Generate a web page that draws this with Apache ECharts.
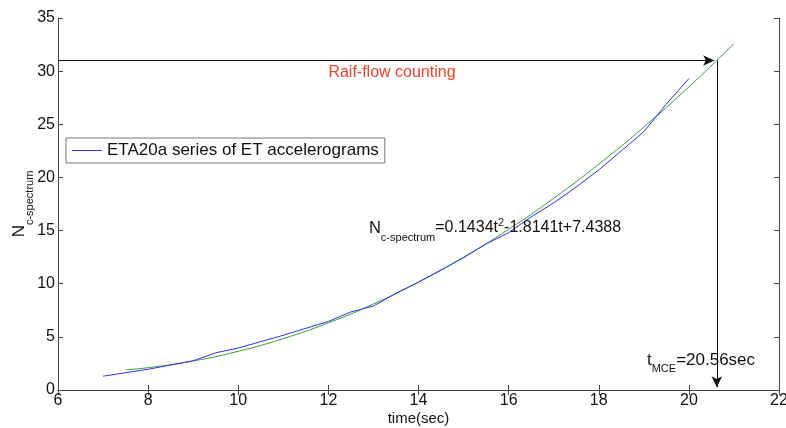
<!DOCTYPE html>
<html>
<head>
<meta charset="utf-8">
<script src="https://cdn.jsdelivr.net/npm/echarts@6/dist/echarts.min.js"></script>
<style>
  html, body { margin: 0; padding: 0; background: #fff; }
  #chart { width: 786px; height: 428px; }
</style>
</head>
<body>
<div id="chart"></div>
<script>
const blueTime = [7, 8, 9, 9.5, 10, 11, 12, 12.5, 13, 13.5, 14, 14.5, 15, 15.5, 16, 16.5, 17, 17.5, 18, 18.5, 19, 19.5, 20]
const blueN = [1.3, 1.95, 2.75, 3.5, 3.95, 5.15, 6.45, 7.35, 7.9, 9.1, 10.15, 11.3, 12.45, 13.75, 14.8, 16.3, 17.6, 19.1, 20.7, 22.5, 24.3, 26.9, 29.3]
const fitTime = [7.5, 8, 9, 10, 11, 12, 13, 14, 15, 16, 17, 18, 19, 20, 21]
const fitN = [1.9, 2.1, 2.73, 3.64, 4.84, 6.32, 8.09, 10.15, 12.49, 15.12, 18.04, 21.25, 24.74, 28.52, 32.58]

const xTicks = { min: 6, max: 22, interval: 2 }
const yTicks = { min: 0, max: 35, interval: 5 }

const legendName = 'ETA20a series of ET accelerograms'
const tMCE = 20.62
const nLevel = 31

const font = 'Liberation Sans, Arial, sans-serif'
const ink = '#111'

const chart = echarts.init(document.getElementById('chart'))

const axisCommon = {
  axisLine: { show: true, lineStyle: { color: '#444', width: 1 } },
  axisTick: { show: true, inside: true, length: 5, lineStyle: { color: '#444' } },
  splitLine: { show: false },
}

chart.setOption({
  backgroundColor: '#fff',
  animation: false,
  grid: { left: 58, right: 7, top: 18, bottom: 38, show: false, outerBoundsMode: 'none', containLabel: false },
  legend: {
    left: 66,
    top: 138,
    data: [legendName],
    icon: 'rect',
    itemWidth: 30,
    itemHeight: 1,
    itemGap: 6,
    padding: [4, 6, 4, 6],
    borderColor: '#777',
    borderWidth: 1,
    backgroundColor: '#fff',
    textStyle: { fontFamily: font, fontSize: 17, color: ink },
  },
  xAxis: [
    {
      type: 'value',
      ...xTicks,
      ...axisCommon,
      name: 'time(sec)',
      nameLocation: 'middle',
      nameGap: 21,
      nameMoveOverlap: false,
      nameTextStyle: { fontFamily: font, fontSize: 15, color: ink },
      axisLabel: { fontFamily: font, fontSize: 16, color: ink, margin: 3 },
    },
    {
      type: 'value',
      position: 'top',
      ...xTicks,
      ...axisCommon,
      axisLabel: { show: false },
    },
  ],
  yAxis: [
    {
      type: 'value',
      ...yTicks,
      ...axisCommon,
      name: '{n|N}{s|c-spectrum}',
      nameLocation: 'middle',
      nameGap: 23,
      nameRotate: 90,
      nameMoveOverlap: false,
      nameTextStyle: {
        fontFamily: font,
        color: ink,
        rich: {
          n: { fontFamily: font, fontSize: 17, color: ink, lineHeight: 24, verticalAlign: 'top' },
          s: { fontFamily: font, fontSize: 11, color: ink, lineHeight: 24, verticalAlign: 'bottom' },
        },
      },
      axisLabel: { fontFamily: font, fontSize: 16, color: ink, margin: 3 },
    },
    {
      type: 'value',
      position: 'right',
      ...yTicks,
      ...axisCommon,
      axisLabel: { show: false },
    },
  ],
  series: [
    {
      name: legendName,
      type: 'line',
      data: blueTime.map((t, i) => [t, blueN[i]]),
      showSymbol: false,
      symbol: 'none',
      lineStyle: { color: '#3030ff', width: 1 },
      itemStyle: { color: '#3030ff' },
      z: 3,
    },
    {
      name: 'fit',
      type: 'line',
      data: fitTime.map((t, i) => [t, fitN[i]]),
      smooth: true,
      showSymbol: false,
      symbol: 'none',
      lineStyle: { color: '#3a9e3a', width: 1 },
      z: 2,
      markLine: {
        silent: true,
        symbol: ['none', 'arrow'],
        symbolSize: [8, 11],
        label: { show: false },
        lineStyle: { color: '#111', width: 1, type: 'solid' },
        data: [
          [{ coord: [xTicks.min, nLevel] }, { coord: [20.56, nLevel] }],
          [{ coord: [tMCE, nLevel] }, { coord: [tMCE, 0.25] }],
        ],
      },
      markPoint: {
        silent: true,
        symbol: 'circle',
        symbolSize: 0,
        data: [
          {
            coord: [12.0, 29.9],
            label: {
              show: true,
              position: 'right',
              distance: 0,
              formatter: 'Raif-flow counting',
              fontFamily: font,
              fontSize: 16,
              color: '#e8452a',
            },
          },
          {
            coord: [12.9, 15.0],
            label: {
              show: true,
              position: 'right',
              distance: 0,
              formatter: '{n|N}{s|c-spectrum}{t|=0.1434t}{p|2}{t|-1.8141t+7.4388}',
              rich: {
                n: { fontFamily: font, fontSize: 16.5, color: ink, lineHeight: 26, verticalAlign: 'top', padding: [2, 0, 0, 0] },
                s: { fontFamily: font, fontSize: 11, color: ink, lineHeight: 26, verticalAlign: 'bottom' },
                t: { fontFamily: font, fontSize: 16, color: ink, lineHeight: 26, verticalAlign: 'top', padding: [2, 0, 0, 0] },
                p: { fontFamily: font, fontSize: 11, color: ink, lineHeight: 26, verticalAlign: 'top' },
              },
            },
          },
          {
            coord: [19.07, 2.6],
            label: {
              show: true,
              position: 'right',
              distance: 0,
              formatter: '{n|t}{s|MCE}{t|=20.56sec}',
              rich: {
                n: { fontFamily: font, fontSize: 17, color: ink, lineHeight: 24, verticalAlign: 'top', padding: [1, 0, 0, 0] },
                s: { fontFamily: font, fontSize: 11, color: ink, lineHeight: 24, verticalAlign: 'bottom' },
                t: { fontFamily: font, fontSize: 17, color: ink, lineHeight: 24, verticalAlign: 'top', padding: [1, 0, 0, 0] },
              },
            },
          },
        ],
      },
    },
  ],
})
</script>
</body>
</html>
